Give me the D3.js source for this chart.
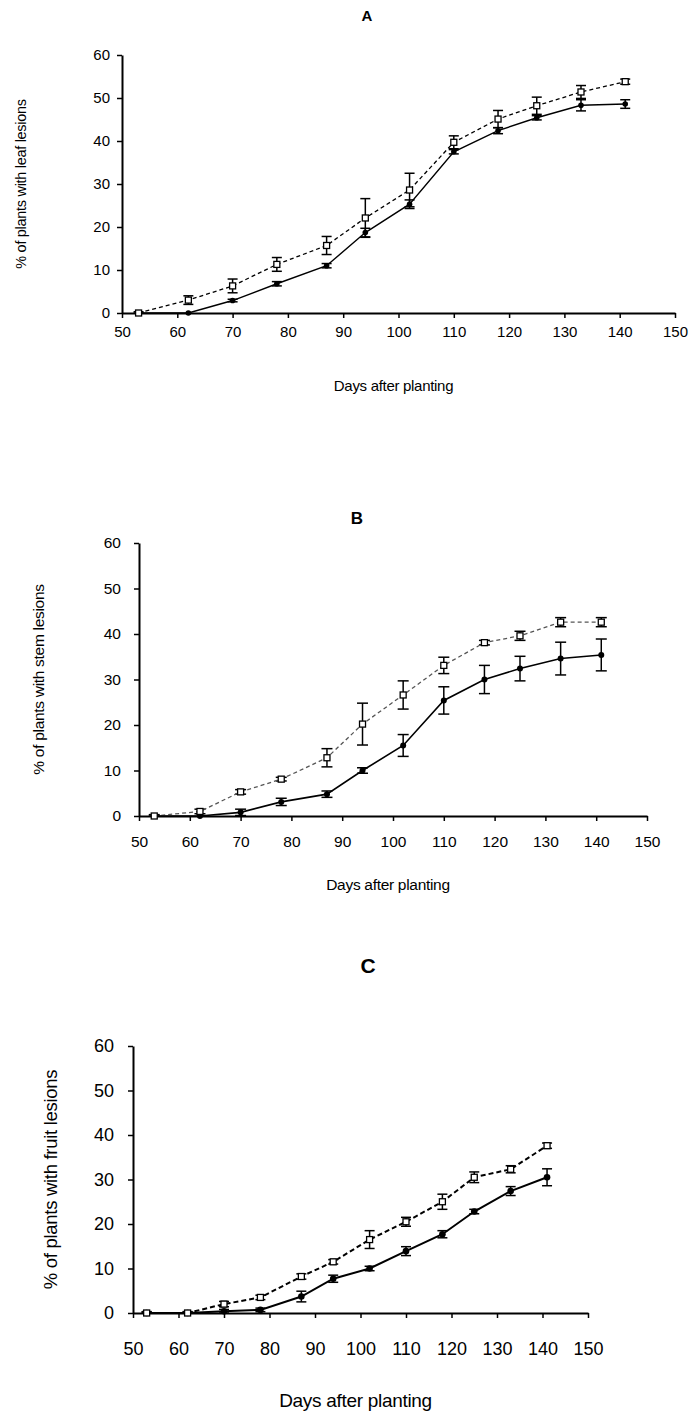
<!DOCTYPE html>
<html>
<head>
<meta charset="utf-8">
<script src="https://cdn.jsdelivr.net/npm/d3@7"></script>
<style>
  html, body { margin: 0; padding: 0; background: #fff; }
  svg { display: block; }
  text { font-family: "Liberation Sans", Arial, sans-serif; fill: #000; }
</style>
</head>
<body>
<svg id="chart" width="694" height="1412"></svg>
<script>
// Sampling days (days after planting)
const days = [53, 62, 70, 78, 87, 94, 102, 110, 118, 125, 133, 141];

// Tick labels
const xTicks = [50, 60, 70, 80, 90, 100, 110, 120, 130, 140, 150];
const yTicks = [0, 10, 20, 30, 40, 50, 60];

// A: leaf lesions (%)
const leafOpen      = [0, 3.0, 6.3, 11.3, 15.7, 22.1, 28.6, 39.7, 45.1, 48.2, 51.4, 53.8];
const leafOpenErr   = [0.3, 1.0, 1.6, 1.6, 2.1, 4.5, 3.9, 1.5, 2.0, 2.0, 1.5, 0.6];
const leafFilled    = [0, 0, 2.9, 6.8, 11.0, 18.7, 25.3, 37.5, 42.4, 45.4, 48.3, 48.6];
const leafFilledErr = [0, 0, 0.3, 0.5, 0.5, 1.0, 1.0, 0.5, 0.7, 0.5, 1.3, 1.0];

// B: stem lesions (%)
const stemOpen      = [0, 1.0, 5.3, 8.1, 12.8, 20.2, 26.6, 33.1, 38.1, 39.6, 42.6, 42.6];
const stemOpenErr   = [0.3, 0.5, 0.5, 0.4, 2.0, 4.6, 3.1, 1.8, 0.5, 1.0, 1.0, 1.0];
const stemFilled    = [0, 0, 0.8, 3.1, 4.8, 10.0, 15.5, 25.4, 30.0, 32.4, 34.6, 35.4];
const stemFilledErr = [0, 0, 0.7, 0.8, 0.7, 0.6, 2.4, 3.0, 3.1, 2.7, 3.6, 3.5];

// C: fruit lesions (%)
const fruitOpen      = [0, 0, 2.0, 3.5, 8.2, 11.5, 16.5, 20.5, 25.0, 30.5, 32.3, 37.6];
const fruitOpenErr   = [0.3, 0.3, 0.6, 0.5, 0.6, 0.5, 2.0, 1.0, 1.7, 1.2, 0.8, 0.6];
const fruitFilled    = [0, 0, 0.4, 0.7, 3.7, 7.7, 10.0, 13.9, 17.7, 22.8, 27.4, 30.5];
const fruitFilledErr = [0.3, 0.3, 0.4, 0.4, 1.2, 0.8, 0.5, 1.0, 0.8, 0.5, 1.0, 1.9];

const xLabel = "Days after planting";

const panels = [
  {
    title: "A", yLabel: "% of plants with leaf lesions",
    open: leafOpen, openErr: leafOpenErr, filled: leafFilled, filledErr: leafFilledErr,
    left: 122, right: 675, top: 55, bottom: 313,
    titlePos: [367, 15], titleSize: 15,
    tickSize: 15, xPad: 8, yPad: 7,
    xLabelY: 385, xLabelSize: 15, yLabelX: 21, yLabelSize: 14.5,
    dashColor: "#000", dash: "4,3", dashWidth: 1.3, solidWidth: 1.4,
    sq: 6, r: 2.8, cap: 10
  },
  {
    title: "B", yLabel: "% of plants with stem lesions",
    open: stemOpen, openErr: stemOpenErr, filled: stemFilled, filledErr: stemFilledErr,
    left: 139, right: 647, top: 543, bottom: 816,
    titlePos: [357, 518], titleSize: 17,
    tickSize: 15.5, xPad: 15, yPad: 13,
    xLabelY: 884, xLabelSize: 15.5, yLabelX: 38, yLabelSize: 15.5,
    dashColor: "#555", dash: "4,3", dashWidth: 1.3, solidWidth: 1.6,
    sq: 6, r: 3, cap: 11
  },
  {
    title: "C", yLabel: "% of plants with fruit lesions",
    open: fruitOpen, openErr: fruitOpenErr, filled: fruitFilled, filledErr: fruitFilledErr,
    left: 133, right: 588, top: 1046, bottom: 1313,
    titlePos: [368, 965], titleSize: 21,
    tickSize: 18, xPad: 24, yPad: 14,
    xLabelY: 1400, xLabelSize: 19, yLabelX: 50, yLabelSize: 18.5,
    dashColor: "#000", dash: "5,3", dashWidth: 2, solidWidth: 2,
    sq: 6, r: 3.3, cap: 10
  }
];

const svg = d3.select("#chart");

panels.forEach(p => {
  const x = d3.scaleLinear().domain([50, 150]).range([p.left, p.right]);
  const y = d3.scaleLinear().domain([0, 60]).range([p.bottom, p.top]);
  const g = svg.append("g");

  // Axes
  const ax = g.append("g")
    .attr("transform", `translate(0,${p.bottom})`)
    .call(d3.axisBottom(x).tickValues(xTicks).tickFormat(d3.format("d"))
      .tickSize(5).tickSizeOuter(0).tickPadding(p.xPad));
  const ay = g.append("g")
    .attr("transform", `translate(${p.left},0)`)
    .call(d3.axisLeft(y).tickValues(yTicks).tickFormat(d3.format("d"))
      .tickSize(5).tickSizeOuter(0).tickPadding(p.yPad));
  [ax, ay].forEach(a => {
    a.select(".domain").attr("stroke", "#000").attr("stroke-width", 2);
    a.selectAll(".tick line").attr("stroke", "#000").attr("stroke-width", 1.5);
    a.selectAll(".tick text")
      .style("font-family", '"Liberation Sans", Arial, sans-serif')
      .style("font-size", p.tickSize + "px")
      .attr("fill", "#000");
  });

  // Titles and axis labels
  g.append("text")
    .attr("x", p.titlePos[0]).attr("y", p.titlePos[1])
    .attr("text-anchor", "middle").attr("dominant-baseline", "central")
    .style("font-weight", "bold").style("font-size", p.titleSize + "px")
    .text(p.title);
  g.append("text")
    .attr("x", (p.left + p.right) / 2 - 5).attr("y", p.xLabelY)
    .attr("text-anchor", "middle").attr("dominant-baseline", "central")
    .style("font-size", p.xLabelSize + "px").style("letter-spacing", "-0.3px")
    .text(xLabel);
  g.append("text")
    .attr("transform", `translate(${p.yLabelX},${(p.top + p.bottom) / 2}) rotate(-90)`)
    .attr("text-anchor", "middle").attr("dominant-baseline", "central")
    .style("font-size", p.yLabelSize + "px").style("letter-spacing", "-0.3px")
    .text(p.yLabel);

  const series = [
    { vals: p.open, err: p.openErr, kind: "open" },
    { vals: p.filled, err: p.filledErr, kind: "filled" }
  ];
  const rows = s => days.map((d, i) => ({ d, v: s.vals[i], e: s.err[i] }));

  // Error bars
  series.forEach(s => {
    const eg = g.append("g").attr("stroke", "#000").attr("stroke-width", 1.5).attr("fill", "none");
    rows(s).filter(r => r.e > 0).forEach(r => {
      const cx = x(r.d);
      const y1 = y(r.v + r.e), y0 = y(Math.max(0, r.v - r.e));
      eg.append("line").attr("x1", cx).attr("x2", cx).attr("y1", y1).attr("y2", y0);
      eg.append("line").attr("x1", cx - p.cap / 2).attr("x2", cx + p.cap / 2).attr("y1", y1).attr("y2", y1);
      eg.append("line").attr("x1", cx - p.cap / 2).attr("x2", cx + p.cap / 2).attr("y1", y0).attr("y2", y0);
    });
  });

  // Lines
  const line = d3.line().x(r => x(r.d)).y(r => y(r.v));
  g.append("path").datum(rows(series[0]))
    .attr("d", line).attr("fill", "none")
    .attr("stroke", p.dashColor).attr("stroke-width", p.dashWidth)
    .attr("stroke-dasharray", p.dash);
  g.append("path").datum(rows(series[1]))
    .attr("d", line).attr("fill", "none")
    .attr("stroke", "#000").attr("stroke-width", p.solidWidth);

  // Markers
  g.append("g").selectAll("circle").data(rows(series[1])).join("circle")
    .attr("cx", r => x(r.d)).attr("cy", r => y(r.v)).attr("r", p.r)
    .attr("fill", "#000");
  g.append("g").selectAll("rect").data(rows(series[0])).join("rect")
    .attr("x", r => x(r.d) - p.sq / 2).attr("y", r => y(r.v) - p.sq / 2)
    .attr("width", p.sq).attr("height", p.sq)
    .attr("fill", "#fff").attr("stroke", "#000").attr("stroke-width", 1.3);
});
</script>
</body>
</html>
